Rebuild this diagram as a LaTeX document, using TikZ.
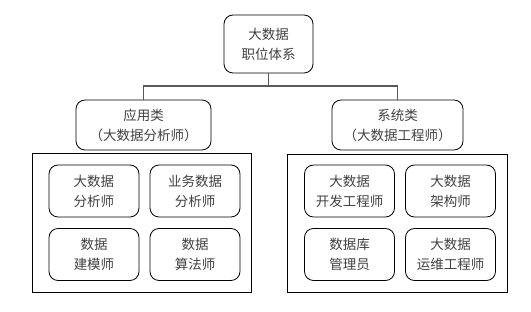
\documentclass[tikz,border=0pt]{standalone}
\usepackage{fontspec}
\usepackage{tikz}
\usetikzlibrary{positioning}
\setmainfont{Noto Sans CJK SC}

\begin{document}
\begin{tikzpicture}[x=1pt, y=-1pt,
  role/.style={draw, rounded corners=9pt, line width=0.8pt, align=center, inner sep=0pt,
    text=black!75, font=\fontsize{13.5}{20}\selectfont},
  group/.style={draw, line width=0.8pt, inner sep=0pt},
  link/.style={draw=black!65, line width=1.3pt}]
\useasboundingbox (0,0) rectangle (531,312);
\node[role, minimum width=89pt, minimum height=58pt] (top) at (268.5,44) {大数据\\职位体系};
\node[role, minimum width=135pt, minimum height=50pt] (app) at (143.5,125) {应用类\\（大数据分析师）};
\node[role, minimum width=131pt, minimum height=50pt] (sys) at (397.5,125) {系统类\\（大数据工程师）};
\node[group, minimum width=219pt, minimum height=139pt] (appbox) at (141.5,222.5) {};
\node[group, minimum width=220pt, minimum height=138pt] (sysbox) at (397,223) {};
\node[role, minimum width=90pt, minimum height=52pt] (ana) at (94,191) {大数据\\分析师};
\node[role, minimum width=90pt, minimum height=52pt] (bus) at (195,191) {业务数据\\分析师};
\node[role, minimum width=90pt, minimum height=52pt] (model) at (94,254.5) {数据\\建模师};
\node[role, minimum width=90pt, minimum height=52pt] (algo) at (195,254.5) {数据\\算法师};
\node[role, minimum width=90pt, minimum height=52pt] (dev) at (349.5,191) {大数据\\开发工程师};
\node[role, minimum width=90pt, minimum height=52pt] (arch) at (450.5,191) {大数据\\架构师};
\node[role, minimum width=90pt, minimum height=52pt] (dba) at (349.5,254.5) {数据库\\管理员};
\node[role, minimum width=90pt, minimum height=52pt] (ops) at (450.5,254.5) {大数据\\运维工程师};
\coordinate (split) at (268.5,86);
\draw[link] (top) -- (split);
\draw[link] (app.north) -- (app.north |- split) -- (sys.north |- split) -- (sys.north);
\end{tikzpicture}
\end{document}
